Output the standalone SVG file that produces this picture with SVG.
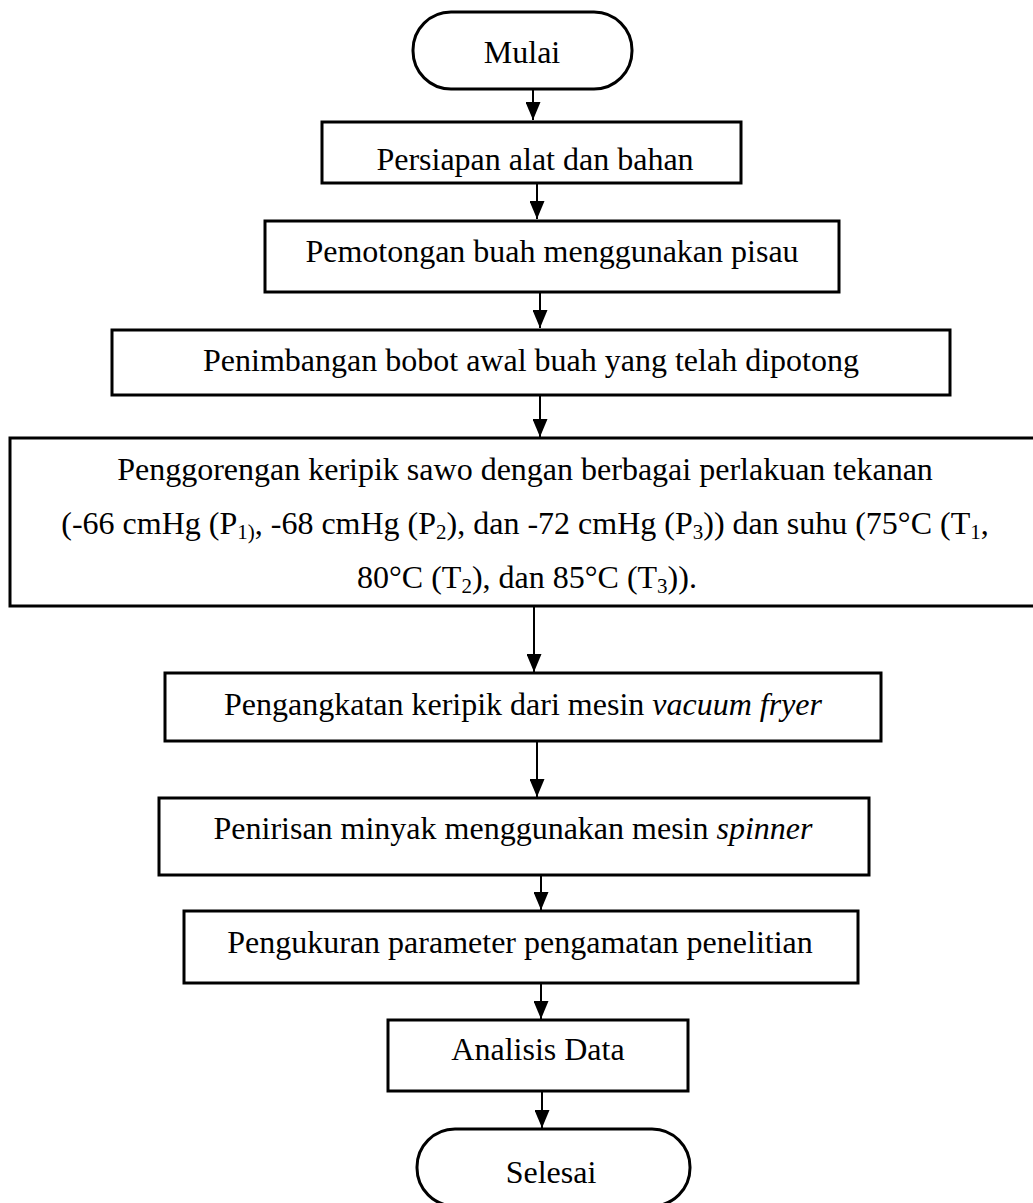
<svg xmlns="http://www.w3.org/2000/svg" width="1033" height="1203" viewBox="0 0 1033 1203">
<style>
  .box { fill: #ffffff; stroke: #000000; stroke-width: 3; }
  .term { fill: #ffffff; stroke: #000000; stroke-width: 3; }
  .lbl { font-family: "Liberation Serif", "Times New Roman", serif; font-size: 32px; fill: #000000; text-anchor: middle; }
  .it { font-style: italic; }
  .sub { font-size: 21px; }
  .conn { stroke: #000000; stroke-width: 2; fill: none; marker-end: url(#arrow); }
</style>
<defs>
  <marker id="arrow" markerUnits="userSpaceOnUse" markerWidth="18" markerHeight="15" refX="18" refY="7.5" orient="auto">
    <path d="M0,0 L18,7.5 L0,15 z" fill="#000000"/>
  </marker>
</defs>
<rect width="1033" height="1203" fill="#ffffff"/>

<g id="connectors">
  <line class="conn" x1="533" y1="89" x2="533" y2="120"/>
  <line class="conn" x1="537" y1="183" x2="537" y2="219"/>
  <line class="conn" x1="540" y1="292" x2="540" y2="328"/>
  <line class="conn" x1="540" y1="395" x2="540" y2="437"/>
  <line class="conn" x1="534" y1="606" x2="534" y2="672"/>
  <line class="conn" x1="537" y1="741" x2="537" y2="797"/>
  <line class="conn" x1="541" y1="875" x2="541" y2="910"/>
  <line class="conn" x1="541" y1="983" x2="541" y2="1019"/>
  <line class="conn" x1="542" y1="1091" x2="542" y2="1128"/>
</g>

<g id="mulai">
  <rect class="term" x="413" y="12" width="219" height="77" rx="38" ry="38"/>
  <text class="lbl" x="522" y="63">Mulai</text>
</g>

<g id="persiapan">
  <rect class="box" x="322" y="122" width="419" height="61"/>
  <text class="lbl" x="535" y="170">Persiapan alat dan bahan</text>
</g>

<g id="pemotongan">
  <rect class="box" x="265" y="221" width="574" height="71"/>
  <text class="lbl" x="552" y="262">Pemotongan buah menggunakan pisau</text>
</g>

<g id="penimbangan">
  <rect class="box" x="112" y="330" width="838" height="65"/>
  <text class="lbl" x="531" y="371">Penimbangan bobot awal buah yang telah dipotong</text>
</g>

<g id="penggorengan">
  <rect class="box" x="10" y="438" width="1032" height="168"/>
  <text class="lbl" x="525" y="480">Penggorengan keripik sawo dengan berbagai perlakuan tekanan</text>
  <text class="lbl" x="525" y="534">(-66 cmHg (P<tspan class="sub" dy="5">1)</tspan><tspan dy="-5">, -68 cmHg (P</tspan><tspan class="sub" dy="5">2</tspan><tspan dy="-5">), dan -72 cmHg (P</tspan><tspan class="sub" dy="5">3</tspan><tspan dy="-5">)) dan suhu (75°C (T</tspan><tspan class="sub" dy="5">1</tspan><tspan dy="-5">,</tspan></text>
  <text class="lbl" x="527" y="588">80°C (T<tspan class="sub" dy="5">2</tspan><tspan dy="-5">), dan 85°C (T</tspan><tspan class="sub" dy="5">3</tspan><tspan dy="-5">)).</tspan></text>
</g>

<g id="pengangkatan">
  <rect class="box" x="165" y="673" width="716" height="68"/>
  <text class="lbl" x="523" y="715">Pengangkatan keripik dari mesin <tspan class="it">vacuum fryer</tspan></text>
</g>

<g id="penirisan">
  <rect class="box" x="159" y="798" width="710" height="77"/>
  <text class="lbl" x="513" y="839">Penirisan minyak menggunakan mesin <tspan class="it">spinner</tspan></text>
</g>

<g id="pengukuran">
  <rect class="box" x="184" y="911" width="674" height="72"/>
  <text class="lbl" x="520" y="953">Pengukuran parameter pengamatan penelitian</text>
</g>

<g id="analisis">
  <rect class="box" x="388" y="1020" width="300" height="71"/>
  <text class="lbl" x="538" y="1060">Analisis Data</text>
</g>

<g id="selesai">
  <rect class="term" x="417" y="1129" width="273" height="77" rx="38" ry="38"/>
  <text class="lbl" x="551" y="1183">Selesai</text>
</g>
</svg>
